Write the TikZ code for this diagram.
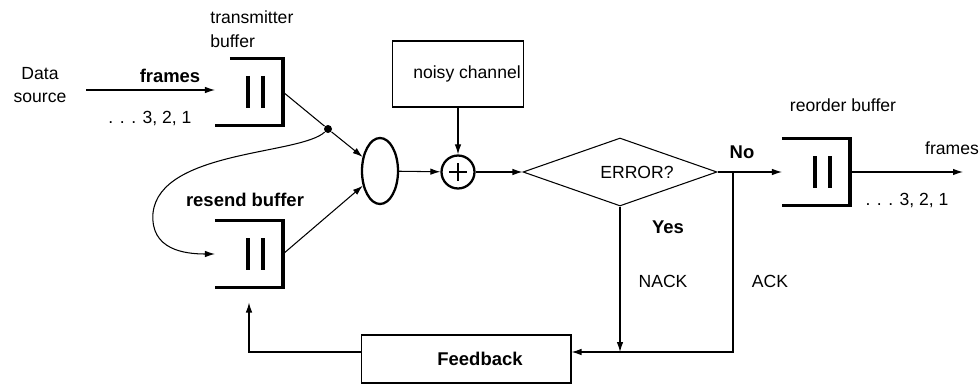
\documentclass[tikz,border=0pt]{standalone}
\usepackage{fontspec}
\setmainfont{Liberation Sans}
\usetikzlibrary{shapes.geometric, arrows.meta, positioning, calc}
\tikzstyle{arrow} = [->,>={Latex[length=2mm,width=1.3mm]}]
\tikzstyle{buffer} = [minimum width=1.34cm,minimum height=1.32cm,inner sep=0pt]
\tikzstyle{bufline} = [line width=2pt]
\tikzstyle{block} = [draw,rectangle,inner sep=0pt]
\tikzstyle{lbl} = [font=\fontsize{10}{13.6}\selectfont]
\tikzstyle{blbl} = [font=\fontsize{10.5}{13.6}\selectfont\bfseries]

\begin{document}
\begin{tikzpicture}[x=0.02cm,y=-0.02cm,line width=0.6pt,every node/.style={lbl}]
    \useasboundingbox (0,0) rectangle (979,385);
    % buffers
    \node[buffer] (tx) at (249,92) {};
    \node[buffer] (rs) at (249,254) {};
    \node[buffer] (rb) at (816,172) {};
    \foreach \b/\off in {tx/15,rs/0,rb/0} {
        \draw[bufline] ($(\b.north west)+(\off,0)$) -- (\b.north east) -- (\b.south east) -- (\b.south west);
        \draw[bufline] ($(\b.center)+(-1,-16)$) -- ($(\b.center)+(-1,16)$);
        \draw[bufline] ($(\b.center)+(14,-16)$) -- ($(\b.center)+(14,16)$);
    }
    % blocks
    \node[draw,ellipse,line width=1.3pt,minimum width=0.72cm,minimum height=1.32cm,inner sep=0pt] (mux) at (380,171) {};
    \node[draw,circle,line width=1.3pt,minimum size=0.66cm,inner sep=0pt] (sum) at (458,172) {};
    \draw[line width=1.6pt] ($(sum.center)+(-9,0)$) -- ($(sum.center)+(9,0)$) ($(sum.center)+(0,-9)$) -- ($(sum.center)+(0,9)$);
    \node[block,minimum width=2.62cm,minimum height=1.32cm] (noise) at (458,74) {\hspace*{0.36cm}noisy channel};
    \node[draw,diamond,aspect=2.85,minimum width=3.88cm,minimum height=1.36cm,inner sep=0pt] (err) at (620,172) {\hspace*{0.68cm}ERROR?};
    \node[block,blbl,minimum width=4.2cm,minimum height=0.96cm] (fb) at (466,359) {\hspace*{0.56cm}Feedback};
    \node[circle,fill,inner sep=0pt,minimum size=0.16cm] (dot) at (328,129) {};
    \coordinate (src) at (86,90);
    \coordinate (out) at (963,172);
    \coordinate (ack) at (733,172);
    \coordinate (fbl) at ($(fb.west)+(0,-7)$);
    \coordinate (fbr) at ($(fb.east)+(0,-7)$);
    % labels
    \node[align=center] (data) at (40,85) {Data\\source};
    \node[blbl] (in_frames) at (170,76) {frames};
    \node (seq_in) at (150,118) {. . . 3, 2, 1};
    \node[align=left,anchor=west] (tx_lbl) at (204,29) {transmitter\\buffer};
    \node[blbl] (rs_lbl) at (245,200) {resend buffer};
    \node[blbl] (no) at (742,152) {No};
    \node[blbl] (yes) at (668,227) {Yes};
    \node (nack) at (663,281) {NACK};
    \node (ack_lbl) at (770,281) {ACK};
    \node (rb_lbl) at (843,105) {reorder buffer};
    \node (out_frames) at (952,148) {frames};
    \node (seq_out) at (907,200) {. . . 3, 2, 1};
    % connectors
    \draw[arrow] (src) -- (tx.west |- src);
    \draw (tx.east) -- (dot);
    \draw[arrow] (dot) -- (mux);
    \draw[arrow] (rs.east) -- (mux);
    \draw[arrow] (dot) .. controls (300,155) and (160,150) .. (153,213) .. controls (150,250) and (185,254) .. (rs.west);
    \draw[arrow] (mux) -- (sum);
    \draw[arrow] (noise) -- (sum);
    \draw[arrow] (sum) -- (err);
    \draw[arrow] (err.east) -- (rb.west);
    \draw[arrow] (rb.east) -- (out);
    \draw[arrow] (ack) |- (fbr);
    \draw[arrow] (err.south) -- (err.south |- fbr);
    \draw[arrow] (fbl) -| ($(rs.south)+(0,15)$);
\end{tikzpicture}
\end{document}
